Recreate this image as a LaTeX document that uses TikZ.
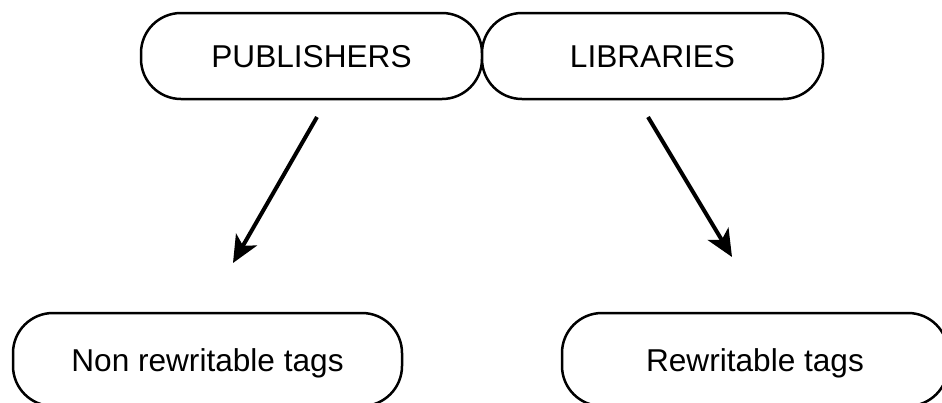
\documentclass[tikz,border=0pt]{standalone}
\usepackage{fontspec}
\setmainfont{Liberation Sans}
\usetikzlibrary{arrows.meta}

\begin{document}
\begin{tikzpicture}[x=1pt,y=-1pt,->,>={Stealth[length=27pt,width=24pt,inset=7pt]},
  line width=4pt,
  main node/.style={rectangle,rounded corners=40pt,draw,line width=2.5pt,fill=white,
    inner sep=0pt,minimum height=86pt,text height=23pt,text depth=0pt,
    font=\fontsize{31.6}{38}\selectfont},
  tag node/.style={main node,minimum height=93pt}]
  \useasboundingbox (0,0) rectangle (942,402);
  \node[main node,minimum width=341pt] (1) at (311.5,56) {PUBLISHERS};
  \node[main node,minimum width=341pt] (2) at (652.5,56) {LIBRARIES};
  \node[tag node,minimum width=389pt] (3) at (207.5,359.5) {Non rewritable tags};
  \node[tag node,minimum width=386pt] (4) at (755,359.5) {Rewritable tags};

  % loose arrow ends
  \coordinate (1s) at (317,117);
  \coordinate (3n) at (233,263);
  \coordinate (2s) at (648,117);
  \coordinate (4n) at (732,257);

  \path
    (1s) edge (3n)
    (2s) edge (4n);
\end{tikzpicture}
\end{document}
